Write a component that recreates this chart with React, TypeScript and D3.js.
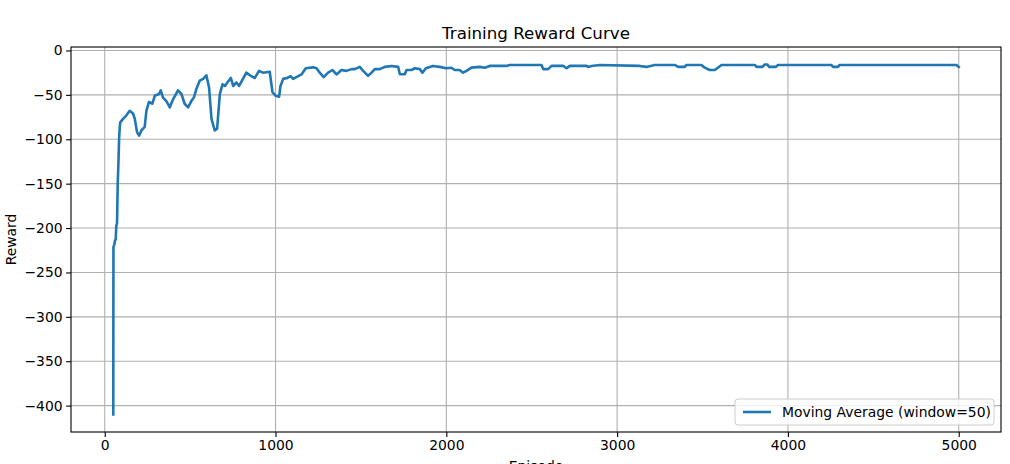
import React, { useEffect, useRef } from 'react';
import * as d3 from 'd3';

// moving average of episode reward
const episodes = [
  50, 51, 56, 60, 64, 68, 72, 76, 80, 84, 88, 91, 107, 127, 146, 166, 176, 189, 201, 215,
  234, 244, 259, 279, 293, 318, 328, 341, 361, 381, 400, 429, 449, 468, 488, 507, 522, 537, 556, 576,
  595, 611, 625, 644, 658, 674, 690, 704, 718, 738, 753, 771, 787, 829, 858, 878, 903, 927, 966, 982,
  1001, 1021, 1029, 1045, 1068, 1088, 1103, 1133, 1152, 1177, 1220, 1240, 1259, 1282, 1308, 1333, 1357, 1386, 1415, 1445,
  1464, 1493, 1513, 1542, 1562, 1581, 1610, 1640, 1679, 1718, 1728, 1757, 1767, 1796, 1816, 1845, 1860, 1880, 1922, 1961,
  2000, 2030, 2049, 2078, 2098, 2118, 2147, 2196, 2225, 2254, 2352, 2371, 2557, 2567, 2596, 2616, 2684, 2704, 2723, 2821,
  2830, 2850, 2898, 3132, 3171, 3220, 3337, 3357, 3396, 3406, 3493, 3513, 3542, 3572, 3611, 3806, 3816, 3851, 3864, 3880,
  3889, 3928, 3942, 4254, 4264, 4293, 4303, 4986, 5000,
];
const rewards = [
  -410, -221, -219, -214, -213, -197, -195, -150, -128, -100, -86, -81, -77, -73, -68, -71, -77, -92, -96, -90,
  -86, -68, -58, -60, -51, -49, -45, -53, -57, -64, -55, -45, -49, -60, -64, -57, -53, -43, -34, -32,
  -28, -42, -77, -90, -88, -49, -38, -40, -36, -31, -40, -36, -40, -25, -29, -31, -23, -25, -24, -47,
  -51, -52, -40, -32, -31, -29, -32, -29, -27, -20, -19, -20, -25, -30, -25, -22, -27, -22, -23, -21,
  -21, -18.5, -23, -28.6, -25, -21, -21, -18.5, -17.4, -18.5, -26.7, -26.7, -22, -22, -20, -21, -25, -20, -17.4, -18.5,
  -20, -19.5, -22, -22, -25, -23, -19.3, -18.5, -19.5, -17.4, -17.4, -16.3, -16.3, -21, -21, -17.4, -17.4, -20, -17.4, -17.4,
  -18.5, -17.4, -16.3, -17.4, -18.5, -16.3, -16.3, -18.5, -18.5, -16.3, -16.3, -19.3, -22, -22, -16.3, -16.3, -18.5, -18.5, -15.8, -15.8,
  -18.5, -18.5, -16.3, -16.3, -18.5, -18.5, -16.3, -16.3, -18.5,
];
const xTicks = [0, 1000, 2000, 3000, 4000, 5000];
const yTicks = [0, -50, -100, -150, -200, -250, -300, -350, -400];

const title = 'Training Reward Curve';
const xLabel = 'Episode';
const yLabel = 'Reward';
const legendLabel = 'Moving Average (window=50)';

const W = 1010;
const H = 464;
const font = 'DejaVu Sans, sans-serif';

function pad(ext: [number, number]): [number, number] {
  const m = (ext[1] - ext[0]) * 0.05;
  return [ext[0] - m, ext[1] + m];
}

const App = () => {
  const ref = useRef<SVGSVGElement>(null);

  useEffect(() => {
    const margin = { top: 47, right: 9, bottom: 32, left: 71 };
    const width = W - margin.left - margin.right;
    const height = H - margin.top - margin.bottom;

    const svg = d3.select(ref.current);
    svg.selectAll('*').remove();

    const g = svg.append('g').attr('transform', `translate(${margin.left},${margin.top})`);

    const x = d3.scaleLinear().domain(pad(d3.extent(episodes) as [number, number])).range([0, width]);
    const y = d3.scaleLinear().domain(pad(d3.extent(rewards) as [number, number])).range([height, 0]);

    const fmt = (v: number) => (v < 0 ? '\u2212' + Math.abs(v) : String(v));

    // grid
    g.append('g')
      .selectAll('line')
      .data(xTicks)
      .enter()
      .append('line')
      .attr('x1', d => x(d))
      .attr('x2', d => x(d))
      .attr('y1', 0)
      .attr('y2', height)
      .attr('stroke', '#b0b0b0')
      .attr('stroke-width', 1.1);
    g.append('g')
      .selectAll('line')
      .data(yTicks)
      .enter()
      .append('line')
      .attr('x1', 0)
      .attr('x2', width)
      .attr('y1', d => y(d))
      .attr('y2', d => y(d))
      .attr('stroke', '#b0b0b0')
      .attr('stroke-width', 1.1);

    // line
    const line = d3
      .line<number>()
      .x((d, i) => x(episodes[i]))
      .y(d => y(d));
    g.append('path')
      .datum(rewards)
      .attr('d', line)
      .attr('fill', 'none')
      .attr('stroke', '#1f77b4')
      .attr('stroke-width', 2.6)
      .attr('stroke-linejoin', 'round')
      .attr('stroke-linecap', 'square');

    // axes
    const xAxis = d3.axisBottom(x).tickValues(xTicks).tickFormat(d => fmt(+d)).tickSize(4.9).tickPadding(3.5);
    const yAxis = d3.axisLeft(y).tickValues(yTicks).tickFormat(d => fmt(+d)).tickSize(4.9).tickPadding(3.5);
    const gx = g.append('g').attr('transform', `translate(0,${height})`).call(xAxis);
    const gy = g.append('g').call(yAxis);
    [gx, gy].forEach(a => {
      a.select('.domain').remove();
      a.selectAll('line').attr('stroke', '#000').attr('stroke-width', 1.1);
      a.selectAll('text').attr('font-family', font).attr('font-size', 13.9).attr('fill', '#000');
    });

    // frame
    g.append('rect')
      .attr('width', width)
      .attr('height', height)
      .attr('fill', 'none')
      .attr('stroke', '#000')
      .attr('stroke-width', 1.1);

    // labels
    svg.append('text')
      .attr('x', margin.left + width / 2)
      .attr('y', margin.top - 8)
      .attr('text-anchor', 'middle')
      .attr('font-family', font)
      .attr('font-size', 16.7)
      .text(title);
    svg.append('text')
      .attr('x', margin.left + width / 2)
      .attr('y', H + 7)
      .attr('text-anchor', 'middle')
      .attr('font-family', font)
      .attr('font-size', 13.9)
      .text(xLabel);
    svg.append('text')
      .attr('transform', `translate(16,${margin.top + height / 2}) rotate(-90)`)
      .attr('text-anchor', 'middle')
      .attr('font-family', font)
      .attr('font-size', 13.9)
      .text(yLabel);

    // legend
    const lw = 259;
    const lh = 26;
    const lg = g.append('g').attr('transform', `translate(${width - lw - 7},${height - lh - 7})`);
    lg.append('rect')
      .attr('width', lw)
      .attr('height', lh)
      .attr('rx', 3)
      .attr('fill', 'rgba(255,255,255,0.8)')
      .attr('stroke', '#cccccc')
      .attr('stroke-width', 1);
    lg.append('line')
      .attr('x1', 8)
      .attr('x2', 36)
      .attr('y1', lh / 2)
      .attr('y2', lh / 2)
      .attr('stroke', '#1f77b4')
      .attr('stroke-width', 2.6);
    lg.append('text')
      .attr('x', 47)
      .attr('y', lh / 2 + 5)
      .attr('font-family', font)
      .attr('font-size', 13.9)
      .text(legendLabel);
  }, []);

  return (
    <div style={{ position: 'absolute', left: 0, top: 0, width: W, height: H, background: '#fff' }}>
      <svg ref={ref} width={W} height={H} style={{ display: 'block' }} />
    </div>
  );
};

export default App;
